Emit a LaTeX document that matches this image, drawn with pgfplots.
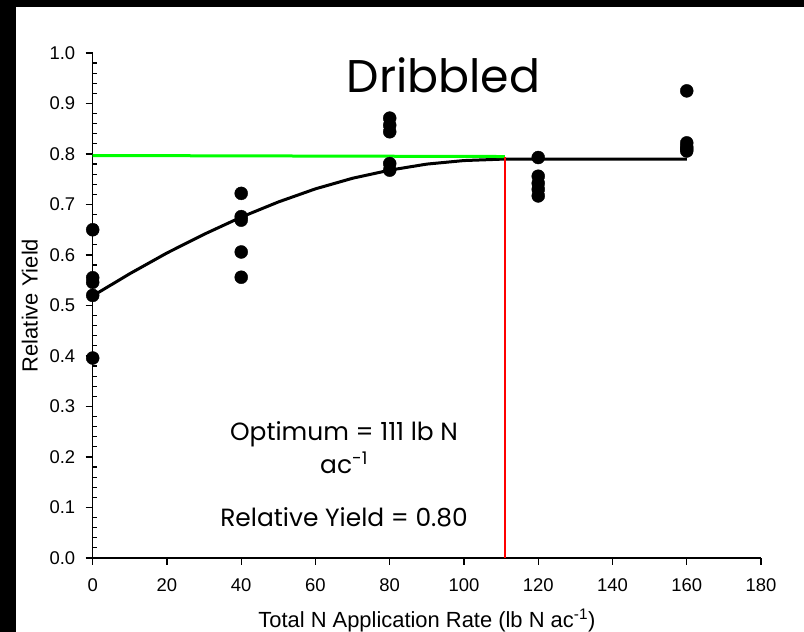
\documentclass[border=0pt]{standalone}
\usepackage{pgfplots}
\pgfplotsset{compat=1.18}
\usepackage{pgfplotstable}
\usepackage{fontspec}
\setmainfont{Liberation Sans}
\newfontfamily\gothic{Poppins}

% relative yield of each plot, by total N rate
\pgfplotstableread{
x y
0 0.650
0 0.555
0 0.546
0 0.520
0 0.396
40 0.722
40 0.676
40 0.669
40 0.606
40 0.556
80 0.871
80 0.857
80 0.844
80 0.781
80 0.768
120 0.793
120 0.756
120 0.742
120 0.730
120 0.717
160 0.925
160 0.822
160 0.814
160 0.810
160 0.806
}\yielddata

% fitted quadratic-plateau response
\pgfplotstableread{
x y
0 0.519
10 0.563
20 0.604
30 0.641
40 0.675
50 0.705
60 0.731
70 0.752
80 0.768
90 0.780
100 0.787
111 0.790
160 0.790
}\fitdata

\begin{document}
\begin{tikzpicture}
\fill[black] (0,0) rectangle (804bp,632bp);
\fill[white] (16bp,0) rectangle (804bp,625bp);
\useasboundingbox (0,0) rectangle (804bp,632bp);
\begin{axis}[
  at={(92.7bp,74bp)}, anchor=south west,
  scale only axis, width=668.3bp, height=505bp,
  xmin=0, xmax=180, ymin=0, ymax=1,
  axis x line*=bottom, axis y line*=left,
  axis line style={line width=1.3bp, black},
  xtick={0,20,40,60,80,100,120,140,160,180},
  ytick={0,0.1,0.2,0.3,0.4,0.5,0.6,0.7,0.8,0.9,1.0},
  minor y tick num=4,
  tick align=outside,
  major tick length=7bp, minor tick length=4bp,
  every tick/.style={black, line width=1.2bp},
  minor tick style={xshift=4bp},
  tick label style={font=\fontsize{18.5}{22}\selectfont},
  /pgf/number format/assume math mode=true,
  yticklabel style={xshift=-7bp, /pgf/number format/.cd, fixed, fixed zerofill, precision=1},
  xticklabel style={yshift=-10bp, /pgf/number format/fixed},
  xlabel={Total N Application Rate (lb N ac\textsuperscript{-1})},
  ylabel={Relative Yield},
  label style={font=\fontsize{22}{26}\selectfont},
  xlabel style={at={(axis description cs:0.5,0)}, anchor=base, yshift=-69bp},
  ylabel style={at={(axis description cs:-0.0823,0.5)}, anchor=base},
  clip=false,
]
\addplot[black, line width=3bp] table {\fitdata};
\addplot[green, line width=3bp] coordinates {(0,0.797) (111,0.795)};
\addplot[red, line width=2bp] coordinates {(111,0) (111,0.795)};
\addplot[only marks, mark=*, mark size=6.5bp, black] table {\yielddata};

\node[anchor=base, font=\gothic\fontsize{46}{50}\selectfont] at (axis cs:94.5,0.921) {Dribbled};
\node[anchor=base, font=\gothic\fontsize{25}{28}\selectfont] at (axis cs:67.7,0.2317) {Optimum = 111 lb N};
\node[anchor=base, font=\gothic\fontsize{25}{28}\selectfont] at (axis cs:67.7,0.168) {ac\textsuperscript{-1}};
\node[anchor=base, font=\gothic\fontsize{25}{28}\selectfont] at (axis cs:67.7,0.0614) {Relative Yield = 0.80};
\end{axis}
\end{tikzpicture}
\end{document}
